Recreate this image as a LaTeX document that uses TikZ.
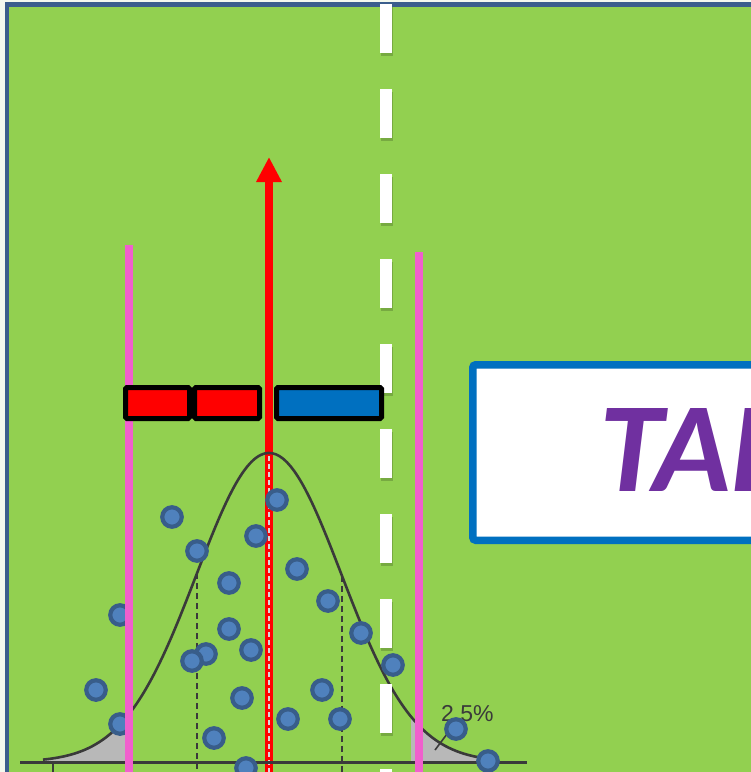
\documentclass[tikz,border=0pt]{standalone}
\usepackage{fontspec}
\usepackage{tikz}
\usetikzlibrary{arrows.meta}
\newfontfamily\calfont{Carlito}
\newfontfamily\lblfont{Liberation Sans}
\definecolor{palecol}{HTML}{F4F9EE}
\definecolor{bgcol}{HTML}{92D050}
\definecolor{framecol}{HTML}{3B5E8C}
\definecolor{pinkcol}{HTML}{F05FCD}
\definecolor{dotfill}{HTML}{4F81BD}
\definecolor{dotline}{HTML}{385D8A}
\definecolor{boxblue}{HTML}{0070C0}
\definecolor{talcol}{HTML}{7030A0}
\definecolor{curvecol}{HTML}{3A3A3A}
\definecolor{tailcol}{HTML}{B8B8B8}

\begin{document}
\begin{tikzpicture}[x=1pt, y=-1pt,
  declare function={bell(\t)=762-309*exp(-0.5*((\t-269)/72.5)*((\t-269)/72.5));},
  dot/.style={circle, fill=dotfill, draw=dotline, line width=4.2pt, minimum size=19.5pt, inner sep=0pt},
  barbox/.style={rectangle, draw=black, line width=5pt, minimum height=31pt, inner sep=0pt, rounded corners=1.5pt},
  sigline/.style={curvecol, line width=2pt, dash pattern=on 6pt off 4pt},
  pinkline/.style={pinkcol, line width=7.5pt}]
\useasboundingbox (0,0) rectangle (751,772);
\clip (0,0) rectangle (751,772);
\fill[palecol] (0,0) rectangle (751,772);
\draw[framecol, fill=bgcol, line width=4.5pt] (7,4.5) rectangle (780,800);
\draw[red, line width=8pt, -{Triangle[width=24pt, length=25pt]}] (269,772) -- (269,157);
\fill[tailcol] plot[domain=45:128, samples=40] (\x,{bell(\x)}) -- (128,762) -- (45,762) -- cycle;
\fill[tailcol] plot[domain=411:490, samples=40] (\x,{bell(\x)}) -- (490,762) -- (411,762) -- cycle;
\draw[curvecol, line width=2.6pt] plot[domain=43:490, samples=120, smooth] (\x,{bell(\x)});
\draw[sigline] (197,{bell(197)}) -- (197,772);
\draw[sigline] (342,{bell(342)}) -- (342,772);
\draw[white!70!gray, line width=2pt, dash pattern=on 5pt off 3pt] (269,456) -- (269,772);
\draw[curvecol, line width=3pt] (20,762) -- (527,762);
\draw[curvecol, line width=2pt] (53,762) -- (53,772);
\node[curvecol, font=\lblfont\fontsize{23pt}{25pt}\selectfont, anchor=base west, inner sep=0pt] (pct) at (441,721) {2.5\%};
\coordinate (tailpt) at (435,750);
\coordinate (tailtop) at (447,734);
\draw[curvecol, line width=1.6pt] (tailpt) -- (tailtop);
\node[dot] (d1) at (172,517) {};
\node[dot] (d2) at (277,500) {};
\node[dot] (d3) at (197,551) {};
\node[dot] (d4) at (256,536) {};
\node[dot] (d5) at (297,569) {};
\node[dot] (d6) at (229,583) {};
\node[dot] (d7) at (328,601) {};
\node[dot] (d8) at (120,615) {};
\node[dot] (d9) at (229,629) {};
\node[dot] (d10) at (361,633) {};
\node[dot] (d11) at (206,654) {};
\node[dot] (d12) at (192,661) {};
\node[dot] (d13) at (251,650) {};
\node[dot] (d14) at (393,665) {};
\node[dot] (d15) at (96,690) {};
\node[dot] (d16) at (322,690) {};
\node[dot] (d17) at (242,698) {};
\node[dot] (d18) at (120,724) {};
\node[dot] (d19) at (288,719) {};
\node[dot] (d20) at (340,719) {};
\node[dot] (d21) at (456,729) {};
\node[dot] (d22) at (214,738) {};
\node[dot] (d23) at (246,768) {};
\node[dot] (d24) at (488,761) {};
\draw[pinkline] (129,245) -- (129,772);
\draw[pinkline] (419,252) -- (419,772);
\draw[black, opacity=0.18, line width=12pt, dash pattern=on 49pt off 36pt] (387,7) -- (387,775);
\draw[white, line width=12pt, dash pattern=on 49pt off 36pt] (386,4) -- (386,772);
\node[barbox, fill=red, minimum width=64pt] (redA) at (157.5,403) {};
\node[barbox, fill=red, minimum width=65pt] (redB) at (227,403) {};
\node[barbox, fill=boxblue, minimum width=105pt] (blueC) at (329,403) {};
\node[rectangle, draw=boxblue, fill=white, line width=7.5pt, rounded corners=3pt, anchor=north west, minimum width=400pt, minimum height=175.5pt, inner sep=0pt] (tbox) at (469,361) {};
\node[talcol, font=\calfont\bfseries\itshape\fontsize{128pt}{130pt}\selectfont, anchor=base west, inner sep=0pt] (tal) at (599,491) {TAL};
\end{tikzpicture}
\end{document}
